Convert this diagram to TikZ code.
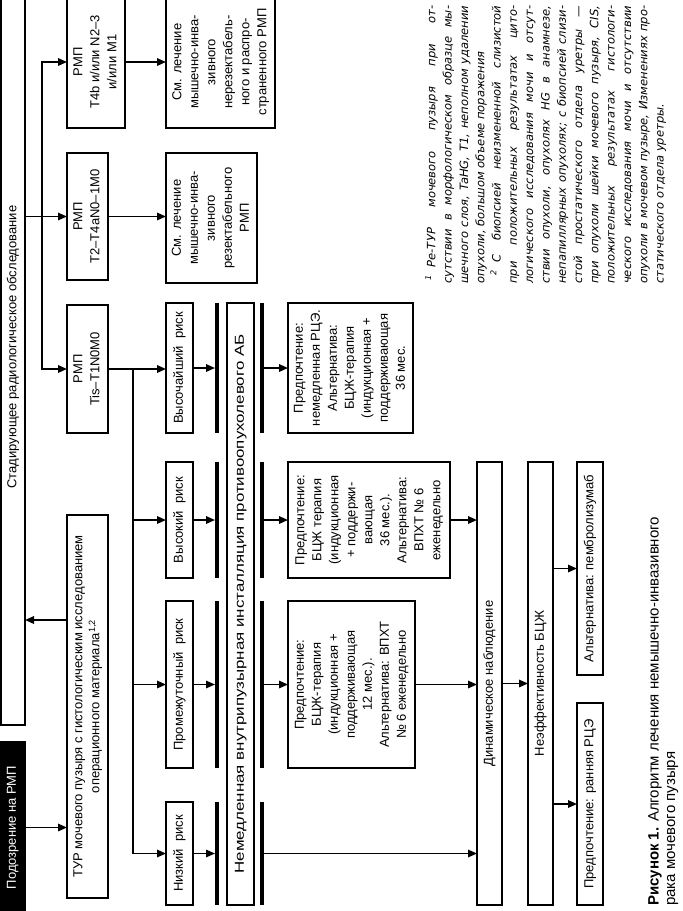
\documentclass[tikz,border=0pt]{standalone}
\usepackage{fontspec}
\setmainfont{Liberation Sans}
\newfontfamily\fnfont{DejaVu Sans}
\usetikzlibrary{arrows.meta}
\newcommand\rt[1]{\rotatebox{90}{\begin{tabular}{@{}c@{}}#1\end{tabular}}}
\newcommand\bx[7][box]{\node[#1, minimum width={(#5)-(#3)}, minimum height={(#6)-(#4)}] (#2) at (#3,#4) {#7};}
\newcommand\br[4]{\node[barbox, minimum height={(#4)-(#3)}] (#1) at (#2,#3) {};}
\newcommand\fnline[1]{\makebox[278pt][s]{#1}}
\newcommand\fnlast[1]{\makebox[278pt][l]{#1}}
\begin{document}
\begin{tikzpicture}[x=1pt, y=-1pt,
  font=\fontsize{13}{17}\selectfont,
  box/.style={draw, line width=1.8pt, inner sep=0pt, outer sep=0pt, anchor=north west, align=center},
  blackbox/.style={box, fill=black, text=white},
  barbox/.style={fill=black, inner sep=0pt, outer sep=0pt, anchor=north west, minimum width=4pt},
  arr/.style={line width=1.6pt, -{Triangle[length=9pt,width=7.5pt]}},
  ln/.style={line width=1.6pt}]
\useasboundingbox (0,0) rectangle (683,911);
\clip (0,0) rectangle (683,911);
% left column
\bx[blackbox]{susp}{0}{742}{25}{913}{\rt{Подозрение на РМП}}
\bx{stage}{1}{-31}{25}{725}{\rt{Стадирующее радиологическое обследование}}
\bx{tur}{67}{515}{108}{898}{\rt{ТУР мочевого пузыря с гистологическим исследованием\\операционного материала\textsuperscript{1,2}}}
\bx{tfour}{67}{-4}{125}{128}{\rt{РМП\\T4b и/или N2–3\\и/или M1}}
\bx{ttwo}{67}{153}{108}{280}{\rt{РМП\\T2–T4aN0–1M0}}
\bx{tis}{67}{305}{108}{433}{\rt{РМП\\Tis–T1N0M0}}
\bx{smone}{166}{-4}{275}{128}{\rt{См. лечение\\мышечно-инва-\\зивного\\нерезектабель-\\ного и распро-\\страненного РМП}}
\bx{smtwo}{166}{153}{257}{283}{\rt{См. лечение\\мышечно-инва-\\зивного\\резектабельного\\РМП}}
% risk boxes
\bx{rvh}{166}{303}{193}{433}{\rt{Высочайший\ \ риск}}
\bx{rh}{166}{462}{193}{578}{\rt{Высокий\ \ риск}}
\bx{rm}{166}{601}{193}{768}{\rt{Промежуточный\ \ риск}}
\bx{rl}{166}{802}{193}{905}{\rt{Низкий\ \ риск}}
% bars
\br{ba}{215}{303}{433}
\br{bb}{215}{462}{578}
\br{bc}{215}{601}{768}
\br{bd}{215}{802}{905}
\br{ca}{260}{303}{433}
\br{cb}{260}{462}{578}
\br{cc}{260}{601}{768}
\br{cd}{260}{802}{905}
\bx{instil}{227}{303}{254}{905}{\rt{\scalebox{1.3}[1]{Немедленная внутрипузырная инсталляция противоопухолевого АБ}}}
% treatments
\bx{tvh}{288}{303}{413}{433}{\rt{Предпочтение:\\немедленная РЦЭ.\\Альтернатива:\\БЦЖ-терапия\\(индукционная +\\поддерживающая\\36 мес.}}
\bx{th}{288}{462}{450}{578}{\rt{Предпочтение:\\БЦЖ терапия\\(индукционная\\+ поддержи-\\вающая\\36 мес.).\\Альтернатива:\\ВПХТ № 6\\еженедельно}}
\bx{tm}{288}{601}{415}{768}{\rt{Предпочтение:\\БЦЖ-терапия\\(индукционная +\\поддерживающая\\12 мес.).\\Альтернатива: ВПХТ\\№ 6 еженедельно}}
\bx{dyn}{477}{462}{502}{905}{\rt{Динамическое наблюдение}}
\bx{ineff}{528}{462}{553}{905}{\rt{Неэффективность БЦЖ}}
\bx{alt}{577}{462}{603}{675}{\rt{Альтернатива: пембролизумаб}}
\bx{pref}{577}{703}{603}{905}{\rt{Предпочтение: ранняя РЦЭ}}
% footnotes
\node[rotate=90, anchor=north west, inner sep=0pt, align=left,
  font=\fnfont\itshape\fontsize{11.5}{16.3}\selectfont] (fn) at (425,284) {%
\fnline{\hspace*{3pt}\textsuperscript{1}\hspace{8pt}Ре-ТУР мочевого пузыря при от-}\\
\fnline{сутствии в морфологическом образце мы-}\\
\fnline{шечного слоя, TaHG, T1, неполном удалении}\\
\fnlast{опухоли, большом объеме поражения}\\
\fnline{\hspace*{8pt}\textsuperscript{2}\hspace{8pt}С биопсией неизмененной слизистой}\\
\fnline{при положительных результатах цито-}\\
\fnline{логического исследования мочи и отсут-}\\
\fnline{ствии опухоли, опухолях HG в анамнезе,}\\
\fnline{непапиллярных опухолях; с биопсией слизи-}\\
\fnline{стой простатического отдела уретры —}\\
\fnline{при опухоли шейки мочевого пузыря, CIS,}\\
\fnline{положительных результатах гистологи-}\\
\fnline{ческого исследования мочи и отсутствии}\\
\fnline{опухоли в мочевом пузыре, Изменениях про-}\\
\fnlast{статического отдела уретры.}};
% caption
\node[rotate=90, anchor=north west, inner sep=0pt, align=left,
  font=\fontsize{15}{16.5}\selectfont] (cap) at (648,906)
  {\textbf{Рисунок 1.} Алгоритм лечения немышечно-инвазивного\\рака мочевого пузыря};
% connectors
\draw[arr] (susp.east) -- (susp.east -| tur.west);
\draw[arr] (tur.west |- 0,620) -- (stage.east |- 0,620);
\draw[arr] (stage.east |- ttwo.west) -- (ttwo.west);
\draw[arr] (42,0 |- tis.west) -- (42,0 |- tfour.west) -- (tfour.west);
\draw[arr] (42,0 |- ttwo.west) -- (42,0 |- tis.west) -- (tis.west);
\draw[arr] (tfour.east) -- (tfour.east -| smone.west);
\draw[arr] (ttwo.east) -- (ttwo.east -| smtwo.west);
\draw[arr] (tis.east) -- (tis.east -| rvh.west);
\draw[arr] (133,0 |- tis.east) -- (133,0 |- rl.west) -- (rl.west);
\draw[arr] (133,0 |- rh.west) -- (rh.west);
\draw[arr] (133,0 |- rm.west) -- (rm.west);
\draw[arr] (rvh.east) -- (rvh.east -| ba.west);
\draw[arr] (rh.east) -- (rh.east -| bb.west);
\draw[arr] (rm.east) -- (rm.east -| bc.west);
\draw[arr] (rl.east) -- (rl.east -| bd.west);
\draw[arr] (ca.east) -- (ca.east -| tvh.west);
\draw[arr] (cb.east) -- (cb.east -| th.west);
\draw[arr] (cc.east) -- (cc.east -| tm.west);
\draw[arr] (cd.east) -- (cd.east -| dyn.west);
\draw[arr] (th.east) -- (th.east -| dyn.west);
\draw[arr] (tm.east) -- (tm.east -| dyn.west);
\draw[arr] (dyn.east) -- (dyn.east -| ineff.west);
\draw[arr] (ineff.east |- alt.west) -- (alt.west);
\draw[arr] (ineff.east |- pref.west) -- (pref.west);
\end{tikzpicture}
\end{document}
